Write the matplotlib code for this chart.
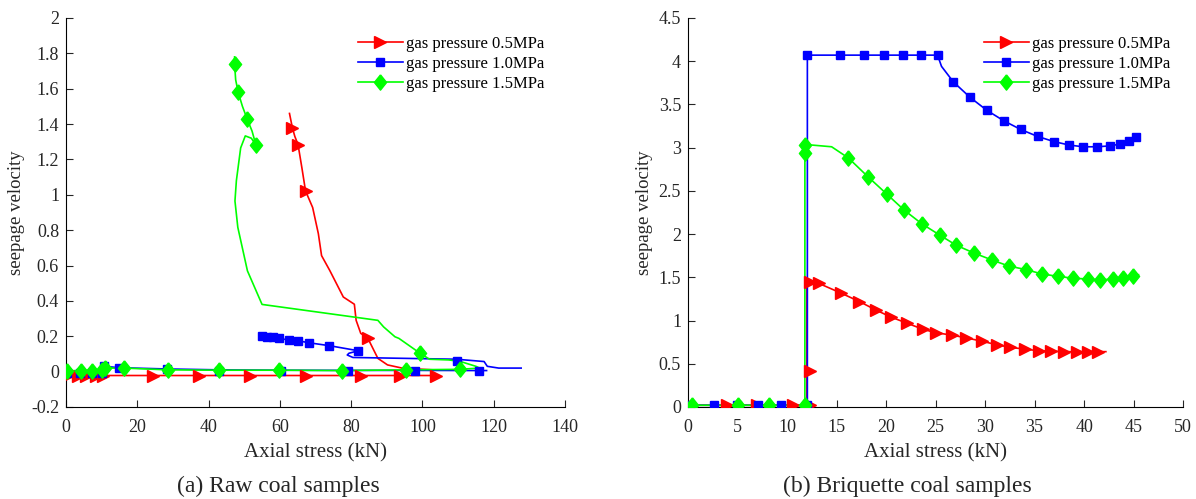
import numpy as np
import matplotlib
matplotlib.use("Agg")
import matplotlib.pyplot as plt
from matplotlib.lines import Line2D

plt.rcParams['font.family'] = ['Liberation Serif', 'DejaVu Serif']
plt.rcParams['mathtext.fontset'] = 'stix'

labels = ["gas pressure 0.5MPa", "gas pressure 1.0MPa", "gas pressure 1.5MPa"]
colors = ["#ff0000", "#0000ff", "#00ff00"]
diamond = [(0, 1), (0.8, 0), (0, -1), (-0.8, 0), (0, 1)]
markers = [">", "s", diamond]

# ---------------- (a) Raw coal samples ----------------
nan = np.nan
a_red_x = [0, 103.7, 103.7, nan, 62.7, 63.5, 64.2, 65.1, 66.2, 67.2, 69.2, 70.8, 71.7, 74.0, 77.8, 80.9, 81.4, 82.7, 84.6, 87.5, 90.2, 94.5, 103]
a_red_y = [-0.022, -0.022, -0.015, nan, 1.46, 1.38, 1.33, 1.284, 1.15, 1.022, 0.928, 0.78, 0.656, 0.572, 0.422, 0.381, 0.29, 0.216, 0.192, 0.075, 0.038, 0.019, 0.01]
a_red_mx = [0.2, 3.4, 5.6, 8.3, 10.5, 24.5, 37.4, 51.6, 67.2, 82.7, 93.8, 103.7, 84.6, 67.2, 65.1, 63.5]
a_red_my = [-0.022, -0.022, -0.022, -0.022, -0.022, -0.022, -0.022, -0.022, -0.022, -0.022, -0.022, -0.022, 0.192, 1.022, 1.284, 1.38]

a_blue_x = [0, 10, 10.7, 15, 28.3, 43, 60.2, 79, 98, 116, 118, nan, 55.1, 56.3, 58.1, 59.8, 62.7, 65, 68.2, 73.8, 82, 79.4, 78.9, 80.5, 109.6, 117.3, 118.2, 121.4, 127.7]
a_blue_y = [-0.01, -0.005, 0.03, 0.022, 0.015, 0.01, 0.008, 0.007, 0.007, 0.006, 0.006, nan, 0.201, 0.197, 0.193, 0.188, 0.178, 0.175, 0.163, 0.147, 0.118, 0.104, 0.094, 0.08, 0.07, 0.057, 0.03, 0.02, 0.02]
a_blue_mx = [0.2, 4.0, 7.2, 10.0, 10.7, 15, 28.3, 43, 60.2, 79, 98, 116, 55.1, 56.3, 58.1, 59.8, 62.7, 65, 68.2, 73.8, 82, 109.8]
a_blue_my = [-0.01, -0.01, -0.01, -0.008, 0.03, 0.022, 0.015, 0.006, 0.006, 0.006, 0.006, 0.006, 0.201, 0.197, 0.193, 0.188, 0.178, 0.175, 0.163, 0.147, 0.118, 0.062]

a_green_x = [0, 10.2, 11, 16.4, 28.6, 43, 59.7, 77.4, 95.4, 110.5, 116, nan, 47.3, 47.3, 47.6, 48.3, 49.5, 50.8, 52.2, 53.3, nan, 53.3, 52, 50.3, 49.0, 47.8, 47.4, 48.2, 50.9, 55, 87.5, 89.1, 92.3, 93.4, 99.4, 102, 107.4, 110.7, 115, 116]
a_green_y = [0.004, 0.01, 0.02, 0.02, 0.01, 0.008, 0.008, 0.006, 0.01, 0.013, 0.02, nan, 1.78, 1.738, 1.65, 1.58, 1.5, 1.43, 1.36, 1.28, nan, 1.28, 1.32, 1.333, 1.265, 1.08, 0.965, 0.816, 0.57, 0.38, 0.29, 0.253, 0.197, 0.188, 0.103, 0.07, 0.066, 0.057, 0.03, 0.02]
a_green_mx = [0.2, 4.1, 7.2, 10.2, 11, 16.4, 28.6, 43, 59.7, 77.4, 95.4, 110.5, 47.3, 48.3, 50.8, 53.3, 99.4]
a_green_my = [0.004, 0.004, 0.004, 0.01, 0.02, 0.02, 0.01, 0.008, 0.008, 0.005, 0.01, 0.013, 1.738, 1.58, 1.43, 1.28, 0.103]

# ---------------- (b) Briquette coal samples ----------------
b_red_x = [0, 12.0, 12.0, 12.3, 13.2, 15.4, 17.3, 19.0, 20.5, 22.1, 23.7, 25.0, 26.7, 28.1, 29.7, 31.2, 32.5, 34.0, 35.4, 36.7, 37.95, 39.3, 40.4, 41.4, 42.2]
b_red_y = [0.02, 0.02, 1.45, 1.45, 1.43, 1.32, 1.22, 1.12, 1.04, 0.97, 0.90, 0.86, 0.83, 0.80, 0.76, 0.72, 0.69, 0.67, 0.65, 0.645, 0.64, 0.64, 0.64, 0.64, 0.64]
b_red_mx = [0.15, 3.9, 7.0, 10.6, 12.3, 12.3, 12.3, 13.2, 15.4, 17.3, 19.0, 20.5, 22.1, 23.7, 25.0, 26.7, 28.1, 29.7, 31.2, 32.5, 34.0, 35.4, 36.7, 37.95, 39.3, 40.4, 41.4]
b_red_my = [0.02, 0.02, 0.02, 0.02, 0.02, 0.42, 1.45, 1.43, 1.32, 1.22, 1.12, 1.04, 0.97, 0.90, 0.86, 0.83, 0.80, 0.76, 0.72, 0.69, 0.67, 0.65, 0.645, 0.64, 0.64, 0.64, 0.64]

b_blue_x = [0, 12.05, 12.05, 15.35, 17.8, 19.8, 21.7, 23.5, 25.2, 25.6, 26.8, 28.5, 30.2, 31.9, 33.6, 35.3, 36.95, 38.5, 39.9, 41.3, 42.6, 43.6, 44.5, 45.2]
b_blue_y = [0.02, 0.02, 4.07, 4.07, 4.07, 4.07, 4.07, 4.07, 4.07, 3.94, 3.76, 3.58, 3.43, 3.31, 3.21, 3.13, 3.07, 3.03, 3.01, 3.01, 3.02, 3.04, 3.08, 3.12]
b_blue_mx = [0.1, 2.6, 4.9, 7.1, 9.4, 12.05, 12.05, 15.35, 17.8, 19.8, 21.7, 23.5, 25.2, 26.8, 28.5, 30.2, 31.9, 33.6, 35.3, 36.95, 38.5, 39.9, 41.3, 42.6, 43.6, 44.5, 45.2]
b_blue_my = [0.02, 0.02, 0.02, 0.02, 0.02, 0.02, 4.07, 4.07, 4.07, 4.07, 4.07, 4.07, 4.07, 3.76, 3.58, 3.43, 3.31, 3.21, 3.13, 3.07, 3.03, 3.01, 3.01, 3.02, 3.04, 3.08, 3.12]

b_green_x = [0, 11.8, 11.8, 12.5, 14.5, 16.2, 18.2, 20.1, 21.8, 23.6, 25.4, 27.1, 28.9, 30.7, 32.4, 34.1, 35.7, 37.4, 38.9, 40.4, 41.6, 42.9, 43.9, 44.9, 45.5]
b_green_y = [0.02, 0.02, 3.03, 3.03, 3.01, 2.88, 2.66, 2.46, 2.28, 2.12, 1.99, 1.87, 1.78, 1.70, 1.63, 1.59, 1.54, 1.51, 1.49, 1.48, 1.47, 1.48, 1.49, 1.51, 1.53]
b_green_mx = [0.35, 5.07, 8.2, 11.8, 11.78, 11.78, 16.2, 18.2, 20.1, 21.8, 23.6, 25.4, 27.1, 28.9, 30.7, 32.4, 34.1, 35.7, 37.4, 38.9, 40.4, 41.6, 42.9, 43.9, 44.9]
b_green_my = [0.02, 0.02, 0.02, 0.02, 2.94, 3.03, 2.88, 2.66, 2.46, 2.28, 2.12, 1.99, 1.87, 1.78, 1.70, 1.63, 1.59, 1.54, 1.51, 1.49, 1.48, 1.47, 1.48, 1.49, 1.51]

fig = plt.figure(figsize=(11.96, 4.99), dpi=100)
axA = fig.add_axes([0.0552, 0.1844, 0.4172, 0.7796])
axB = fig.add_axes([0.5753, 0.1844, 0.4139, 0.7796])

msizes = [8.5, 6, 11]

def draw(ax, series):
    for (lx, ly, mx, my), c, m, ms in zip(series, colors, markers, msizes):
        ax.plot(lx, ly, color=c, lw=1.2, zorder=2)
        ax.plot(mx, my, linestyle='none', marker=m, color=c, ms=ms, zorder=3)

draw(axA, [(a_red_x, a_red_y, a_red_mx, a_red_my),
           (a_blue_x, a_blue_y, a_blue_mx, a_blue_my),
           (a_green_x, a_green_y, a_green_mx, a_green_my)])
draw(axB, [(b_red_x, b_red_y, b_red_mx, b_red_my),
           (b_blue_x, b_blue_y, b_blue_mx, b_blue_my),
           (b_green_x, b_green_y, b_green_mx, b_green_my)])

axA.set_xlim(0, 140)
axA.set_ylim(-0.2, 2)
axA.set_xticks(np.arange(0, 141, 20))
axA.set_yticks(np.round(np.arange(-0.2, 2.01, 0.2), 1))
axA.set_yticklabels(['-0.2', '0', '0.2', '0.4', '0.6', '0.8', '1', '1.2', '1.4', '1.6', '1.8', '2'])

axB.set_xlim(0, 50)
axB.set_ylim(0, 4.5)
axB.set_xticks(np.arange(0, 51, 5))
axB.set_yticks(np.arange(0, 4.51, 0.5))
axB.set_yticklabels(['0', '0.5', '1', '1.5', '2', '2.5', '3', '3.5', '4', '4.5'])

for ax, ylx, legx in ((axA, -0.082, 0.979), (axB, -0.071, 0.995)):
    ax.spines['top'].set_visible(False)
    ax.spines['right'].set_visible(False)
    ax.tick_params(direction='in', labelsize=13, length=5, width=0.8, colors='#262626')
    ax.tick_params(axis='x', pad=9)
    ax.tick_params(axis='y', pad=5)
    ax.set_ylabel('seepage velocity', fontsize=13.5, color='#262626')
    ax.yaxis.set_label_coords(ylx, 0.5)
    ax.set_xlabel('Axial stress (kN)', fontsize=15, color='#262626', labelpad=5)
    handles = [Line2D([], [], color=c, marker=m, ms=ms, lw=1.2) for c, m, ms in zip(colors, markers, msizes)]
    ax.legend(handles, labels, loc='upper right', bbox_to_anchor=(legx, 0.98), frameon=False,
              fontsize=12, handlelength=2.7, handletextpad=0.2, labelspacing=0.25, borderaxespad=0.2)

fig.text(0.233, 0.026, '(a) Raw coal samples', ha='center', va='center', fontsize=17, color='#262626')
fig.text(0.759, 0.026, '(b) Briquette coal samples', ha='center', va='center', fontsize=17, color='#262626')

fig.savefig('out.png', dpi=100)
